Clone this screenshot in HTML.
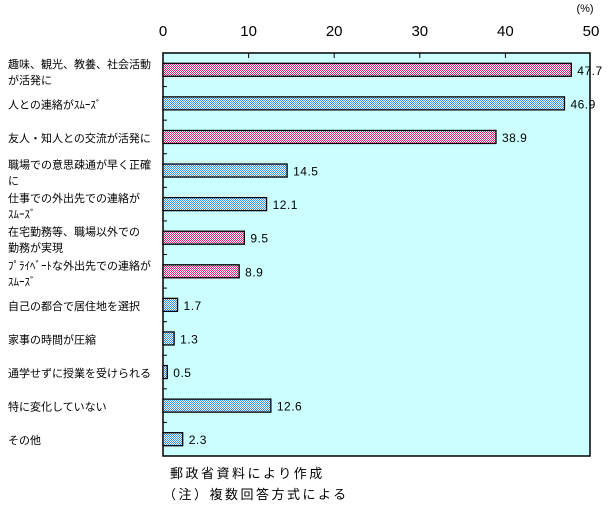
<!DOCTYPE html>
<html><head><meta charset="utf-8"><style>
html,body{margin:0;padding:0;background:#fff;}
svg{display:block;font-family:"Liberation Sans","Noto Sans CJK JP",sans-serif;}
</style></head><body>
<svg id="chart" width="616" height="513">
<defs>
<pattern id="pinkPat" width="2" height="2" patternUnits="userSpaceOnUse">
<rect width="2" height="2" fill="#ffffff"/><rect width="1" height="1" fill="#e0207f"/><rect x="1" y="1" width="1" height="1" fill="#e0207f"/>
</pattern>
<pattern id="bluePat" width="2" height="2" patternUnits="userSpaceOnUse">
<rect width="2" height="2" fill="#ffffff"/><rect width="1" height="1" fill="#2f8fef"/><rect x="1" y="1" width="1" height="1" fill="#2f8fef"/>
</pattern>
</defs>
<rect x="163" y="53" width="427" height="403" fill="#ccffff" stroke="#000" stroke-width="1.5"/>
<g id="axis"></g>
<g id="bars"></g>
<g id="labels"></g>
<text x="585" y="12" font-size="11" text-anchor="middle">(%)</text>
<text x="170" y="478" font-size="13" letter-spacing="2.5">郵政省資料により作成</text>
<text x="163" y="499" font-size="13" letter-spacing="2.5">（注）複数回答方式による</text>
</svg>
<script>
const categories=[["趣味、観光、教養、社会活動","が活発に"],["人との連絡がｽﾑｰｽﾞ"],["友人・知人との交流が活発に"],["職場での意思疎通が早く正確","に"],["仕事での外出先での連絡が","ｽﾑｰｽﾞ"],["在宅勤務等、職場以外での","勤務が実現"],["ﾌﾟﾗｲﾍﾞｰﾄな外出先での連絡が","ｽﾑｰｽﾞ"],["自己の都合で居住地を選択"],["家事の時間が圧縮"],["通学せずに授業を受けられる"],["特に変化していない"],["その他"]];
const values=[47.7,46.9,38.9,14.5,12.1,9.5,8.9,1.7,1.3,0.5,12.6,2.3];
const colors=["pink","blue","pink","blue","blue","pink","pink","blue","blue","blue","blue","blue"];
const tickValues=[0,10,20,30,40,50];
const NS="http://www.w3.org/2000/svg";
const X0=163,X1=591,Y0=53,Y1=456,XMAX=50;
const xs=v=>X0+(v/XMAX)*(X1-X0);
const band=(Y1-Y0)/values.length;
const yc=i=>Y0+band*(i+0.5);
function mk(tag,attrs,parent){const e=document.createElementNS(NS,tag);for(const k in attrs)e.setAttribute(k,attrs[k]);parent.appendChild(e);return e;}
const ax=document.getElementById('axis'),bg=document.getElementById('bars'),lg=document.getElementById('labels');
tickValues.forEach(t=>{
 const tx=mk('text',{x:xs(t),y:36,'font-size':15,'text-anchor':'middle'},ax);
 tx.textContent=t;
 
 
 if(t>0&&t<XMAX){const l=mk('line',{x1:xs(t),x2:xs(t),y1:Y0,y2:Y0+5,stroke:'#000'},ax);
 
 }
});
for(let i=1;i<values.length;i++){
 const l=mk('line',{x1:X0,x2:X0+4,y1:Y0+band*i,y2:Y0+band*i,stroke:'#000'},ax);
 
 
}
values.forEach((v,i)=>{
 const h=13,y=yc(i)-h/2;
 const r=mk('rect',{x:X0,y:y,width:Math.max(xs(v)-X0,1),height:h,fill:colors[i]==='pink'?'url(#pinkPat)':'url(#bluePat)',stroke:'#000','stroke-width':1.3},bg);
 
 
 const t=mk('text',{x:xs(v)+6,y:yc(i)+5,'font-size':12,'letter-spacing':0.5},bg);
 t.textContent=v.toFixed(1);
 
 
 const lines=categories[i];
 lines.forEach((s,j)=>{
  const yy=lines.length===1?yc(i)+5:yc(i)-2+j*16;
  const c=mk('text',{x:8,y:yy,'font-size':11},lg);
  c.textContent=s;
  
  
 });
});
</script>
</body></html>
